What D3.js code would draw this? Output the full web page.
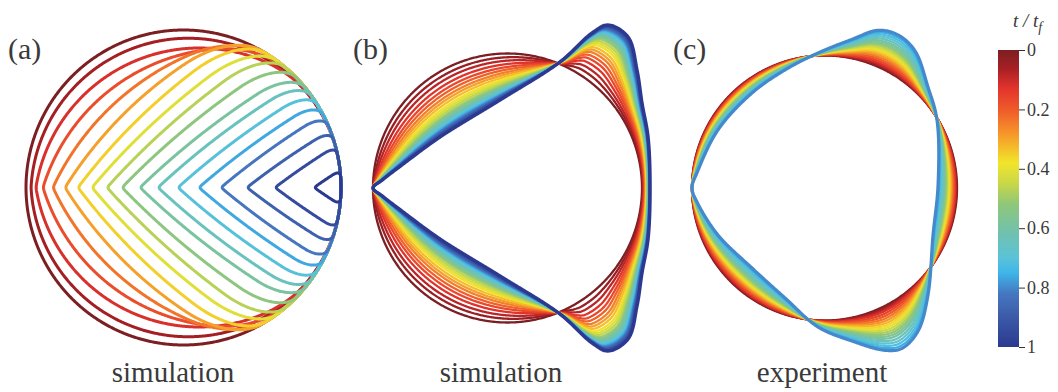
<!DOCTYPE html>
<html>
<head>
<meta charset="utf-8">
<script src="https://cdn.jsdelivr.net/npm/d3@7"></script>
<style>
  body { margin: 0; background: #fff; }
  svg { display: block; }
  text { fill: #3a3a3a; }
</style>
</head>
<body>
<svg id="chart" width="1058" height="392"></svg>
<script>
// ---- colour map for t / t_f ----
const cmapStops  = [0, 0.06, 0.13, 0.2, 0.28, 0.38, 0.45, 0.52, 0.62, 0.7, 0.75, 0.82, 0.9, 1];
const cmapColors = ["#7b1f22", "#a51f24", "#e3342c", "#ee5a2a", "#f6952a", "#f2e52b", "#c8d748",
                    "#8fc77a", "#6fc1b0", "#5bc3d8", "#3eb6ea", "#4677c0", "#3c5aa8", "#2b3990"];
const colorTicks = [0, 0.2, 0.4, 0.6, 0.8, 1];
const colorTickLabels = ["0", "0.2", "0.4", "0.6", "0.8", "1"];

// ---- (a) simulation: advancing fronts inside the disk ----
// time of each front, tip position (disk radii, -1 = left edge),
// tip half-angle (degrees from vertical), bending radius of the flanks (disk radii)
// and rounding where the flanks join the rim (disk radii)
const frontT     = [0, 0.059, 0.118, 0.176, 0.235, 0.294, 0.353, 0.412, 0.471, 0.529, 0.588, 0.647, 0.706, 0.765, 0.824, 0.882, 0.941, 1];
const frontTip   = [-1, -0.968, -0.937, -0.892, -0.829, -0.752, -0.670, -0.581, -0.486, -0.390, -0.276, -0.162, -0.035, 0.098, 0.238, 0.403, 0.581, 0.829];
const frontAngle = [0, 3, 9, 17, 25, 32, 37, 40, 42, 44, 46, 47, 48, 49, 50, 52, 53, 55];
const frontBend  = [1, 1.0, 1.05, 1.25, 1.7, 2.6, 3.8, 4.5, 5, 5, 5, 5, 5, 5, 5, 5, 5, 5];
const frontRound = [0, 0.013, 0.025, 0.05, 0.076, 0.1, 0.12, 0.13, 0.13, 0.13, 0.12, 0.11, 0.1, 0.09, 0.08, 0.065, 0.05, 0.035];

// ---- (b) simulation: circle deforming into a rounded triangle ----
const simT     = [0, 0.042, 0.083, 0.125, 0.167, 0.208, 0.25, 0.292, 0.333, 0.375, 0.417, 0.458, 0.5,
                  0.542, 0.583, 0.625, 0.667, 0.708, 0.75, 0.792, 0.833, 0.875, 0.917, 0.958, 1];
const simMorph = [0, 0.09, 0.17, 0.25, 0.32, 0.38, 0.44, 0.49, 0.54, 0.59, 0.63, 0.67, 0.71,
                  0.74, 0.77, 0.80, 0.83, 0.86, 0.88, 0.90, 0.92, 0.94, 0.96, 0.98, 1];
// final outline (disk radii, y up)
const simFinal = [[-1.0, 0], [-0.93, 0.06], [-0.80, 0.16], [-0.502, 0.379], [-0.056, 0.654], [0.390, 0.937],
                  [0.628, 1.152], [0.747, 1.212], [0.896, 1.123], [0.963, 0.877], [1.0, 0.632], [1.045, 0.379],
                  [1.06, 0], [1.045, -0.379], [1.0, -0.632], [0.963, -0.877], [0.896, -1.123], [0.747, -1.212],
                  [0.628, -1.152], [0.390, -0.937], [-0.056, -0.654], [-0.502, -0.379], [-0.80, -0.16], [-0.93, -0.06]];

// ---- (c) experiment ----
const expT     = [0, 0.04, 0.08, 0.12, 0.16, 0.2, 0.24, 0.28, 0.32, 0.36, 0.4, 0.44, 0.48, 0.52, 0.56, 0.6, 0.64, 0.68, 0.72, 0.76, 0.8];
const expMorph = [0, 0.03, 0.06, 0.1, 0.15, 0.2, 0.25, 0.3, 0.35, 0.4, 0.45, 0.5, 0.55, 0.6, 0.65, 0.7, 0.76, 0.82, 0.88, 0.94, 1];
const expFinal = [[-1, 0], [-0.96, 0.12], [-0.804, 0.438], [-0.547, 0.717], [-0.298, 0.891], [-0.049, 1.019],
                  [0.208, 1.122], [0.404, 1.190], [0.555, 1.155], [0.683, 1.035], [0.781, 0.762], [0.849, 0.513],
                  [0.857, 0.023], [0.819, -0.355], [0.781, -0.808], [0.706, -1.080], [0.585, -1.210], [0.457, -1.225],
                  [0.208, -1.155], [-0.049, -1.049], [-0.298, -0.830], [-0.547, -0.604], [-0.804, -0.355], [-0.96, -0.11]];

const panelLabels = ["(a)", "(b)", "(c)"];
const captions = ["simulation", "simulation", "experiment"];

// ---------------------------------------------------------------
// pick the first installed serif face
function pickSerif() {
  const candidates = ["Liberation Serif", "Tinos", "Times New Roman", "Times", "DejaVu Serif",
                      "Noto Serif", "FreeSerif", "Nimbus Roman", "Nimbus Roman No9 L", "Georgia"];
  const ctx = document.createElement("canvas").getContext("2d");
  const sample = "simulation experiment (a) 0.2";
  const widthOf = f => { ctx.font = "40px " + f; return ctx.measureText(sample).width; };
  const mono = widthOf("monospace"), sans = widthOf("sans-serif");
  for (const c of candidates) {
    const w1 = widthOf(`'${c}', monospace`), w2 = widthOf(`'${c}', sans-serif`);
    if (w1 !== mono || w2 !== sans) return `'${c}', serif`;
  }
  return "serif";
}
const serif = pickSerif();

const svg = d3.select("#chart");
const color = d3.scaleLinear().domain(cmapStops).range(cmapColors).clamp(true);

const panels = [
  { cx: 183.5, cy: 187.5, r: 157.5, labelX: 8,   capX: 173 },
  { cx: 507.5, cy: 188,   r: 134.5, labelX: 353, capX: 501 },
  { cx: 824.5, cy: 188,   r: 132.5, labelX: 673, capX: 822 }
];
panels.forEach(p => {
  p.x = d3.scaleLinear().domain([-1, 1]).range([p.cx - p.r, p.cx + p.r]);
  p.y = d3.scaleLinear().domain([-1, 1]).range([p.cy + p.r, p.cy - p.r]);
});

function resampleClosed(pts, step) {
  const P = pts.concat([pts[0]]);
  const acc = [0];
  for (let i = 1; i < P.length; i++)
    acc.push(acc[i - 1] + Math.hypot(P[i][0] - P[i - 1][0], P[i][1] - P[i - 1][1]));
  const L = acc[acc.length - 1];
  const n = Math.max(12, Math.round(L / step));
  const out = [];
  let j = 0;
  for (let k = 0; k < n; k++) {
    const s = k * L / n;
    while (j < P.length - 2 && acc[j + 1] < s) j++;
    const f = (s - acc[j]) / ((acc[j + 1] - acc[j]) || 1);
    out.push([P[j][0] + f * (P[j + 1][0] - P[j][0]), P[j][1] + f * (P[j + 1][1] - P[j][1])]);
  }
  return out;
}

function smoothClosed(pts, sigma) {
  const n = pts.length, half = Math.ceil(3 * sigma), w = [];
  for (let i = -half; i <= half; i++) w.push(Math.exp(-i * i / (2 * sigma * sigma)));
  const ws = d3.sum(w);
  return pts.map((_, i) => {
    let x = 0, y = 0;
    for (let k = -half; k <= half; k++) {
      const q = pts[((i + k) % n + n) % n], wk = w[k + half];
      x += wk * q[0]; y += wk * q[1];
    }
    return [x / ws, y / ws];
  });
}

function rayExit(d, px, py, dx, dy) {
  const ox = px - d.x, oy = py - d.y;
  const b = dx * ox + dy * oy, c = ox * ox + oy * oy - d.r * d.r;
  return -b + Math.sqrt(Math.max(0, b * b - c));
}
function smin(a, b, k) {
  if (k <= 0) return Math.min(a, b);
  const h = Math.max(k - Math.abs(a - b), 0) / k;
  return Math.min(a, b) - h * h * k / 4;
}

// rim disk intersected with two flank disks; the rim joint is rounded by k
function frontOutline(rim, flankA, flankB, px, py, k) {
  const n = 1440, pts = [];
  for (let i = 0; i < n; i++) {
    const a = 2 * Math.PI * i / n, dx = Math.cos(a), dy = Math.sin(a);
    const sRim = rayExit(rim, px, py, dx, dy);
    const sFl = Math.min(rayExit(flankA, px, py, dx, dy), rayExit(flankB, px, py, dx, dy));
    const s = smin(sRim, sFl, k);
    pts.push([px + s * dx, py + s * dy]);
  }
  return pts;
}

const closedLine = d3.line().curve(d3.curveLinearClosed);

// ---- panel (a) ----
{
  const p = panels[0];
  const g = svg.append("g").attr("class", "panel-a");
  const k = p.x(1) - p.x(0); // pixels per disk radius
  frontT.forEach((t, i) => {
    const tipX = p.x(frontTip[i]), tipY = p.y(0);
    const a = frontAngle[i] * Math.PI / 180, rho = frontBend[i] * k;
    const rim = { x: p.x(0), y: p.y(0), r: k };
    const up = { x: tipX + rho * Math.cos(a), y: tipY + rho * Math.sin(a), r: rho };
    const dn = { x: tipX + rho * Math.cos(a), y: tipY - rho * Math.sin(a), r: rho };
    let pts = frontOutline(rim, up, dn, (tipX + p.x(1)) / 2, tipY, frontRound[i] * k * 2.2);
    pts = smoothClosed(resampleClosed(pts, 1), 2);
    g.append("path")
      .attr("d", closedLine(pts))
      .attr("fill", "none")
      .attr("stroke", color(t))
      .attr("stroke-width", 3)
      .attr("stroke-linejoin", "round");
  });
}

// ---- panels (b) and (c): morph from circle to final outline ----
function drawMorph(p, finalOutline, tList, morphList, widths) {
  const g = svg.append("g");
  const outlinePx = finalOutline.map(d => [p.x(d[0]), p.y(d[1])]);
  const tmp = g.append("path")
    .attr("d", d3.line().curve(d3.curveCatmullRomClosed.alpha(0.5))(outlinePx))
    .attr("fill", "none").attr("stroke", "none");
  const node = tmp.node(), len = node.getTotalLength();
  const samples = [];
  const N = 3000;
  for (let i = 0; i < N; i++) {
    const q = node.getPointAtLength(len * i / N);
    const dx = q.x - p.cx, dy = q.y - p.cy;
    samples.push([Math.atan2(dy, dx), Math.hypot(dx, dy)]);
  }
  tmp.remove();
  samples.sort((a, b) => a[0] - b[0]);
  const ext = [[samples[samples.length - 1][0] - 2 * Math.PI, samples[samples.length - 1][1]],
               ...samples, [samples[0][0] + 2 * Math.PI, samples[0][1]]];
  const M = 900, grid = [];
  let j = 0;
  for (let i = 0; i < M; i++) {
    const th = -Math.PI + 2 * Math.PI * i / M;
    while (j < ext.length - 2 && ext[j + 1][0] < th) j++;
    const f = (th - ext[j][0]) / ((ext[j + 1][0] - ext[j][0]) || 1);
    grid.push([th, ext[j][1] + f * (ext[j + 1][1] - ext[j][1])]);
  }
  tList.forEach((t, i) => {
    const s = morphList[i];
    const pts = grid.map(([th, rT]) => {
      const r = p.r + s * (rT - p.r);
      return [p.cx + r * Math.cos(th), p.cy + r * Math.sin(th)];
    });
    g.append("path")
      .attr("d", closedLine(pts))
      .attr("fill", "none")
      .attr("stroke", color(t))
      .attr("stroke-width", i === tList.length - 1 ? widths[1] : widths[0])
      .attr("stroke-linejoin", "round");
  });
}
drawMorph(panels[1], simFinal, simT, simMorph, [2.3, 3.4]);
drawMorph(panels[2], expFinal, expT, expMorph, [2.3, 3.2]);

// ---- panel labels and captions ----
panels.forEach((p, i) => {
  svg.append("text").attr("x", p.labelX).attr("y", 59)
    .style("font-family", serif).attr("font-size", 30).text(panelLabels[i]);
  svg.append("text").attr("x", p.capX).attr("y", 382)
    .style("font-family", serif).attr("text-anchor", "middle").attr("font-size", 29).text(captions[i]);
});

// ---- colour bar ----
const bar = { x: 998, w: 21, top: 50, bottom: 347 };
const grad = svg.append("defs").append("linearGradient")
  .attr("id", "tgrad").attr("x1", 0).attr("y1", 0).attr("x2", 0).attr("y2", 1);
d3.range(0, 1.0001, 0.01).forEach(v => {
  grad.append("stop").attr("offset", v).attr("stop-color", color(v));
});
svg.append("rect")
  .attr("x", bar.x).attr("y", bar.top)
  .attr("width", bar.w).attr("height", bar.bottom - bar.top)
  .attr("fill", "url(#tgrad)");

const cScale = d3.scaleLinear().domain([0, 1]).range([bar.top, bar.bottom]);
const axis = svg.append("g")
  .attr("transform", `translate(${bar.x + bar.w},0)`)
  .call(d3.axisRight(cScale).tickValues(colorTicks)
        .tickFormat((d, i) => colorTickLabels[i]).tickSize(6).tickPadding(2));
axis.select(".domain").remove();
axis.selectAll(".tick line").attr("stroke", "#333");
axis.selectAll(".tick text")
  .style("font-family", serif)
  .attr("font-size", 18).attr("fill", "#3a3a3a");

const title = svg.append("text").attr("x", 1013).attr("y", 27)
  .style("font-family", serif).attr("font-size", 19).attr("font-style", "italic");
title.append("tspan").text("t / t");
title.append("tspan").attr("dy", 5).attr("font-size", 14).text("f");
</script>
</body>
</html>
